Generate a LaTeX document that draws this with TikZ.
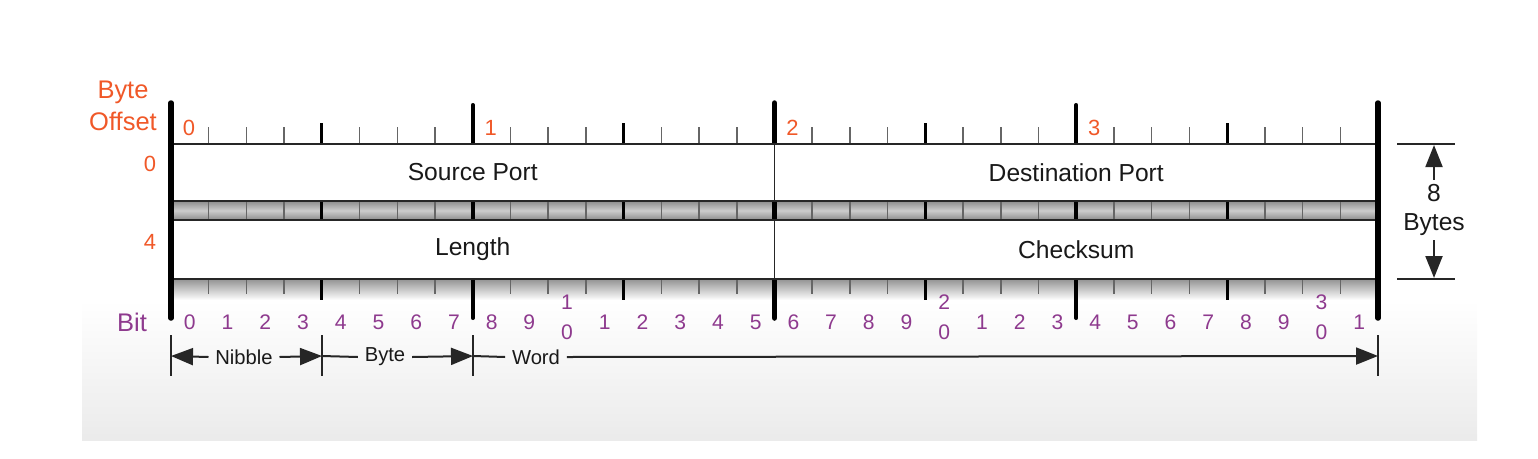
\documentclass[tikz,border=0pt]{standalone}
\usepackage{fontspec}
\setmainfont{Liberation Sans}
\usetikzlibrary{arrows.meta}
\definecolor{offorange}{RGB}{240,88,40}
\definecolor{bitpurple}{RGB}{142,58,142}
\tikzset{
  field/.style={draw=black!85, line width=0.3mm, fill=white, inner sep=0pt, text=black!90, font=\fontsize{14}{16}\selectfont},
  minortick/.style={draw=black!60, line width=0.3mm},
  nibbletick/.style={draw=black, line width=0.6mm},
  bytebar/.style={draw=black, line width=0.8mm, line cap=round},
  mainbar/.style={draw=black, line width=1.1mm, line cap=round},
  offnum/.style={text=offorange, inner sep=0pt, font=\fontsize{12.5}{14}\selectfont},
  bitnum/.style={text=bitpurple, inner sep=0pt, font=\fontsize{12}{14}\selectfont},
  sidelabel/.style={inner sep=0pt, font=\fontsize{14.5}{16}\selectfont},
  dimtext/.style={text=black!90, inner sep=1.3mm, font=\fontsize{11.5}{13}\selectfont},
  dimline/.style={draw=black!85, line width=0.4mm},
  dimarrow/.style={dimline, -{Triangle[length=4.4mm,width=3.4mm]}}
}
\begin{document}
\begin{tikzpicture}[x=0.2mm,y=-0.2mm]
\useasboundingbox (0,0) rectangle (1538,458);
\shade[top color=white,bottom color=gray!16] (82,300) rectangle (1477,440);
% shaded bands
\shade[top color=gray!90,bottom color=gray!90,middle color=gray!40] (171,201) rectangle (1378,220);
\shade[top color=gray!85,bottom color=white] (171,279) rectangle (1378,300);
% ticks
\foreach \i in {1,...,31}{
  \pgfmathsetmacro\x{171+\i*37.71875}
  \draw[minortick] (\x,127)--(\x,294);
}
\foreach \i in {4,12,20,28}{
  \pgfmathsetmacro\x{171+\i*37.71875}
  \draw[nibbletick] (\x,123)--(\x,300);
}
\foreach \i in {8,24}{
  \pgfmathsetmacro\x{171+\i*37.71875}
  \draw[bytebar] (\x,105)--(\x,318);
}
\draw[mainbar] (774.5,103)--(774.5,318);
% fields
\node[field,minimum width=120.7mm,minimum height=11.4mm] (src) at (472.75,172.5) {Source Port};
\node[field,minimum width=120.7mm,minimum height=11.4mm] (dst) at (1076.25,172.5) {Destination Port};
\node[field,minimum width=120.7mm,minimum height=11.8mm] (len) at (472.75,249.5) {Length};
\node[field,minimum width=120.7mm,minimum height=11.8mm] (chk) at (1076.25,249.5) {Checksum};
\draw[mainbar] (171,103)--(171,318);
\draw[mainbar] (1378,103)--(1378,318);
% byte offsets
\node[offnum,sidelabel] (byte) at (123,92) {Byte};
\node[offnum,sidelabel] (offset) at (123,121) {Offset};
\foreach \b in {0,1,2,3}{
  \pgfmathsetmacro\x{189+\b*301.75}
  \node[offnum] (top\b) at (\x,128) {\b};
}
\node[offnum] (row0) at (150,164) {0};
\node[offnum] (row4) at (150,242) {4};
% bit numbers
\node[bitnum,sidelabel] (bit) at (132,322) {Bit};
\foreach \i in {0,...,31}{
  \pgfmathsetmacro\x{171+(\i+0.5)*37.71875}
  \pgfmathtruncatemacro\u{mod(\i,10)}
  \pgfmathtruncatemacro\t{\i/10}
  \ifnum\i>0 \ifnum\u=0
    \node[bitnum] (ten\t) at (\x,302) {\t};
    \node[bitnum] (bit\i) at (\x,332) {\u};
  \else
    \node[bitnum] (bit\i) at (\x,322) {\u};
  \fi \else
    \node[bitnum] (bit\i) at (\x,322) {\u};
  \fi
}
% widths
\foreach \x/\n in {171/a,322/b,473/c,1378/d}{
  \draw[dimline] (\x,335)--(\x,376);
  \coordinate (w\n) at (\x,356);
}
\node[dimtext] (nibble) at (244,357) {Nibble};
\node[dimtext] (bytew) at (385,357) {Byte};
\node[dimtext] (word) at (536,357) {Word};
\draw[dimarrow] (nibble.west) -- (wa);
\draw[dimarrow] (nibble.east) -- (wb);
\draw[dimline] (bytew.west) -- (wb);
\draw[dimarrow] (bytew.east) -- (wc);
\draw[dimline] (word.west) -- (wc);
\draw[dimarrow] (word.east) -- (wd);
% header size
\draw[dimline] (1397,144)--(1455,144);
\draw[dimline] (1397,279)--(1455,279);
\node[dimtext,inner sep=0.8mm,align=center,font=\fontsize{14}{17}\selectfont] (size) at (1434,210) {8\\Bytes};
\coordinate (up) at (1434,145);
\coordinate (down) at (1434,278);
\draw[dimarrow] (size.north) -- (up);
\draw[dimarrow] (size.south) -- (down);
\end{tikzpicture}
\end{document}
